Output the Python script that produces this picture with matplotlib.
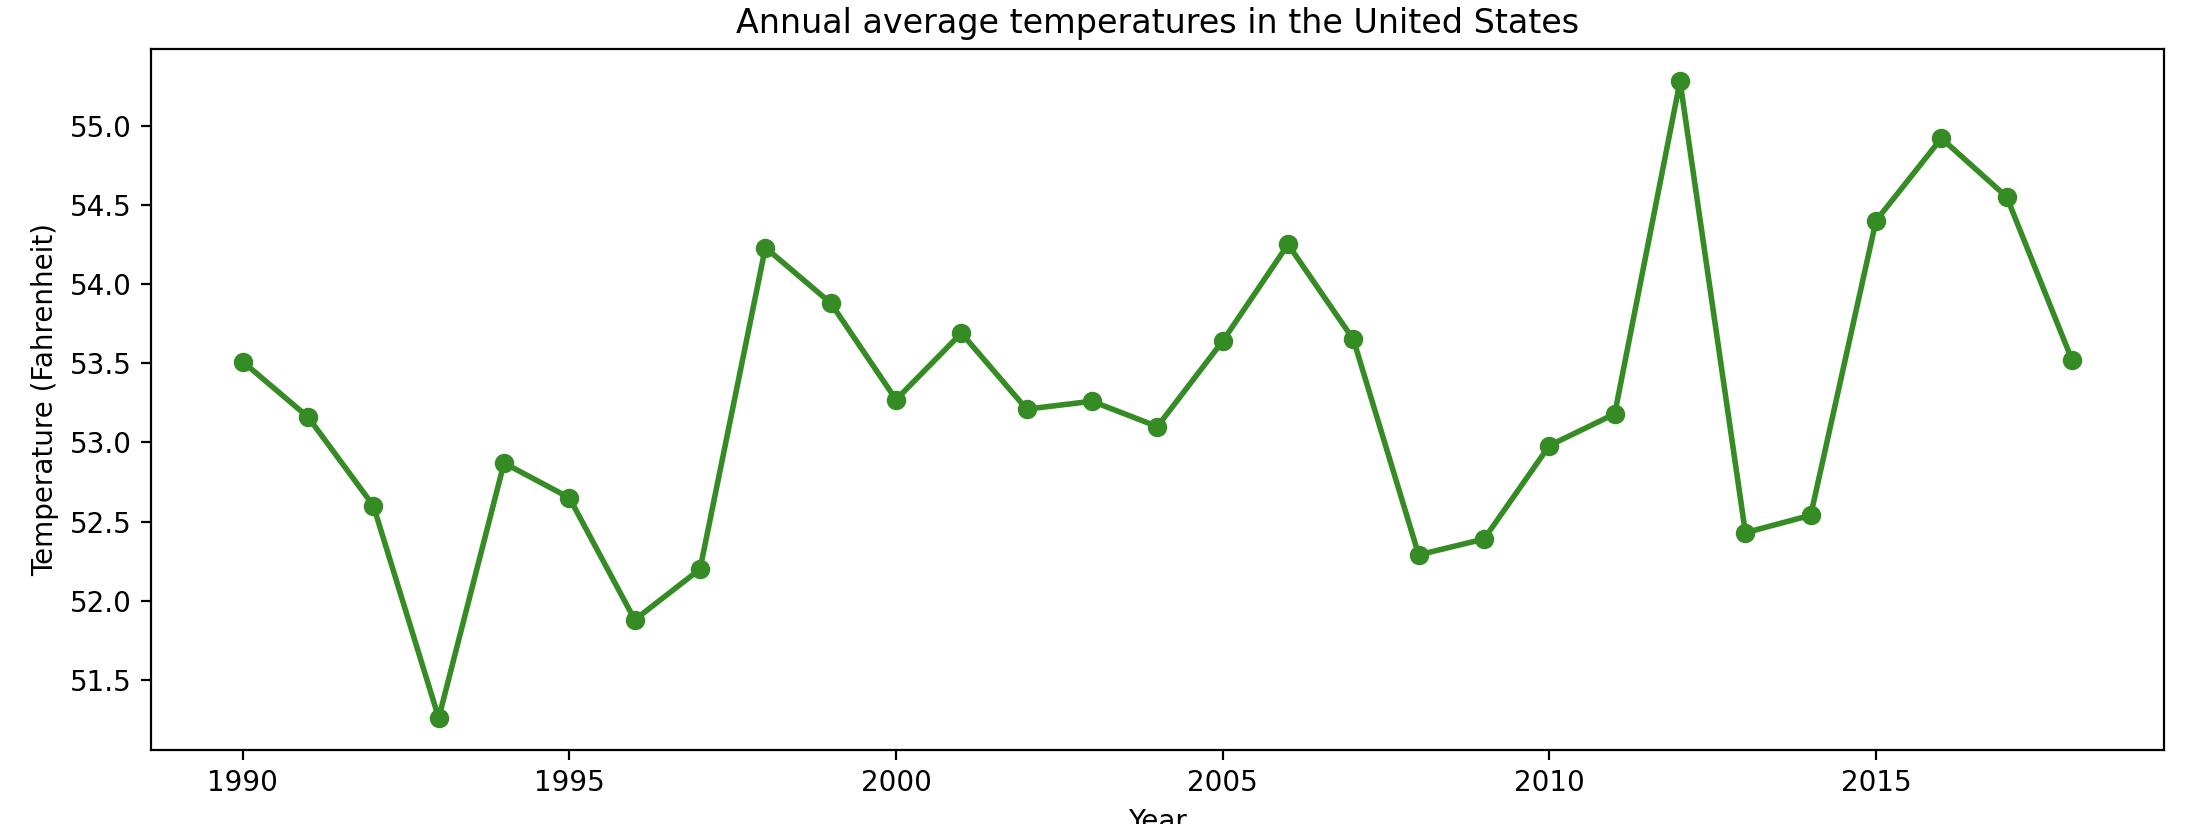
import matplotlib
matplotlib.use("Agg")
import matplotlib.pyplot as plt

years = list(range(1990, 2019))
temps = [53.51, 53.16, 52.60, 51.26, 52.87, 52.65, 51.88, 52.20, 54.23, 53.88,
         53.27, 53.69, 53.21, 53.26, 53.10, 53.64, 54.25, 53.65, 52.29, 52.39,
         52.98, 53.18, 55.28, 52.43, 52.54, 54.40, 54.92, 54.55, 53.52]

fig = plt.figure(figsize=(10.96, 4.12), dpi=200)
ax = fig.add_axes([0.069, 0.09, 0.918, 0.85])
ax.plot(years, temps, color='#368c24', marker='o', linewidth=2, markersize=6)
ax.set_title("Annual average temperatures in the United States")
ax.set_xlabel("Year")
ax.set_ylabel("Temperature (Fahrenheit)")
fig.savefig("out.png", dpi=200)
